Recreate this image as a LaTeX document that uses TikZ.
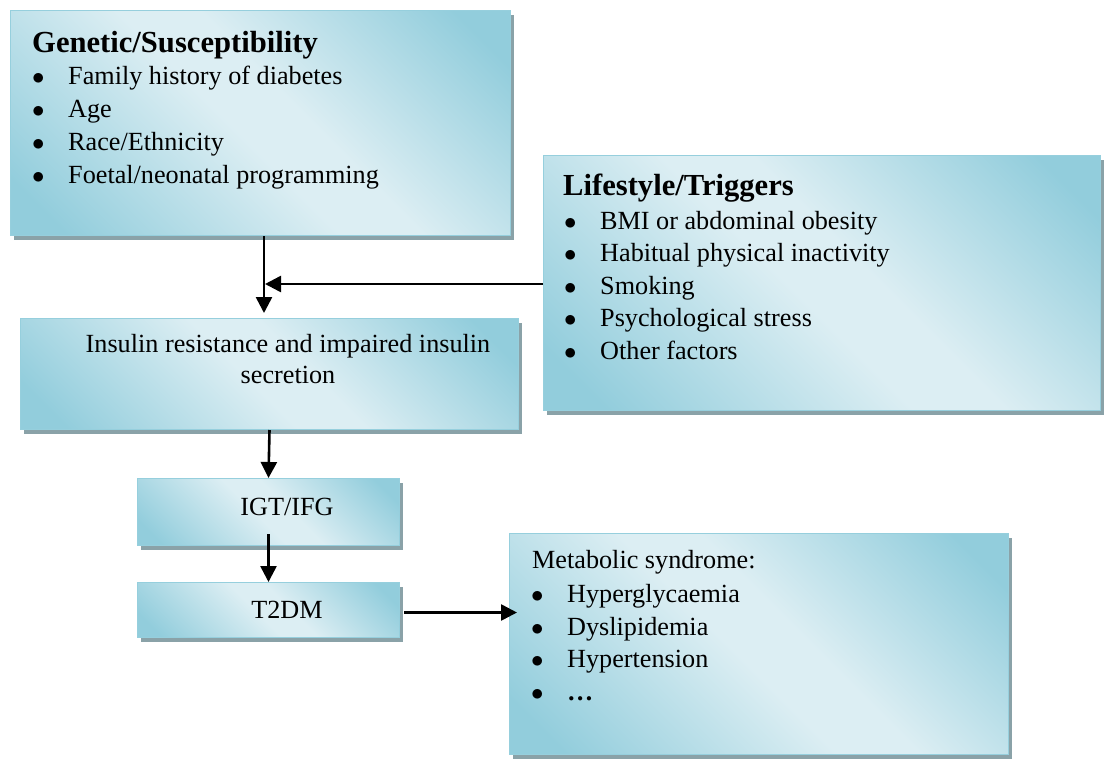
\documentclass[tikz,border=0pt]{standalone}
\usepackage{fontspec}
\setmainfont{Liberation Serif}
\usetikzlibrary{shadows,arrows.meta,calc}

\definecolor{aquadark}{RGB}{146,205,220}
\definecolor{aqualight}{RGB}{220,238,243}
\definecolor{aquaedge}{RGB}{150,207,221}
\definecolor{shadowgray}{RGB}{138,162,168}

% diagonal band: darker corners, light stripe through the middle
\pgfdeclarehorizontalshading{aquaband}{100bp}{%
  color(0bp)=(aquadark); color(20bp)=(aquadark);
  color(47bp)=(aqualight); color(55bp)=(aqualight);
  color(80bp)=(aquadark); color(100bp)=(aquadark)}

\newcommand\bodyfont{\fontsize{26.2pt}{32pt}\selectfont}
\newcommand\headfont{\fontsize{30.6pt}{36pt}\selectfont\bfseries}
\newcommand\bul{\makebox[36pt][l]{$\bullet$}}

\tikzset{
  box/.style={draw=aquaedge, line width=1pt, shading=aquaband, shading angle=45,
    general shadow={fill=shadowgray, shadow xshift=3pt, shadow yshift=-4pt},
    inner sep=0pt, anchor=north west},
  txt/.style={anchor=base west, inner sep=0pt, font=\bodyfont},
  ctxt/.style={anchor=base, inner sep=0pt, font=\bodyfont},
  head/.style={anchor=base west, inner sep=0pt, font=\headfont},
  flow/.style={line width=2.6pt, -{Triangle[length=16pt,width=16pt]}},
}

\begin{document}
\begin{tikzpicture}[x=1pt, y=-1pt]
\useasboundingbox (0,0) rectangle (1105,758);

% boxes
\node[box, minimum width=500pt, minimum height=225pt] (gen) at (10,10) {};
\node[box, minimum width=557pt, minimum height=255pt] (life) at (543,155) {};
\node[box, minimum width=498pt, minimum height=111pt] (ins) at (20,318) {};
\node[box, minimum width=262pt, minimum height=67pt] (igt) at (137,478) {};
\node[box, minimum width=262pt, minimum height=55pt] (t2dm) at (137,582) {};
\node[box, minimum width=499pt, minimum height=221pt] (met) at (509,533) {};

% genetic factors
\node[head] (genh) at (32,52) {Genetic/Susceptibility};
\node[txt] (gen1) at (32,84) {\bul Family history of diabetes};
\node[txt] (gen2) at (32,117) {\bul Age};
\node[txt] (gen3) at (32,150) {\bul Race/Ethnicity};
\node[txt] (gen4) at (32,183) {\bul Foetal/neonatal programming};

% lifestyle factors
\node[head] (lifeh) at (563,195) {Lifestyle/Triggers};
\node[txt] (life1) at (564,229) {\bul BMI or abdominal obesity};
\node[txt] (life2) at (564,261.5) {\bul Habitual physical inactivity};
\node[txt] (life3) at (564,294) {\bul Smoking};
\node[txt] (life4) at (564,326.5) {\bul Psychological stress};
\node[txt] (life5) at (564,359) {\bul Other factors};

% disease progression
\node[ctxt] (insa) at (288,352) {Insulin resistance and impaired insulin};
\node[ctxt] (insb) at (288,383) {secretion};
\node[ctxt] (igtt) at (287,515) {IGT/IFG};
\node[ctxt] (t2dmt) at (287,618) {T2DM};

% metabolic syndrome
\node[txt] (meth) at (532,568) {Metabolic syndrome:};
\node[txt] (met1) at (531,602) {\bul Hyperglycaemia};
\node[txt] (met2) at (531,635) {\bul Dyslipidemia};
\node[txt] (met3) at (531,667.5) {\bul Hypertension};
\node[txt] (met4) at (531,700) {\bul \textbf{…}};

% connectors
\coordinate (j) at (264,284);
\draw[flow, shorten >=5pt] (gen.south -| j) -- (ins.north -| j);
\draw[flow, shorten >=1pt] (life.west |- j) -- (j);
\draw[flow] (ins.south) -- (igt.north);
\draw[flow] ([yshift=12pt]igt.south) -- (t2dm.north);
\draw[flow] ([shift={(4pt,-2.5pt)}]t2dm.east) -- ([shift={(8pt,-2.5pt)}]t2dm.east -| met.west);
\end{tikzpicture}
\end{document}
